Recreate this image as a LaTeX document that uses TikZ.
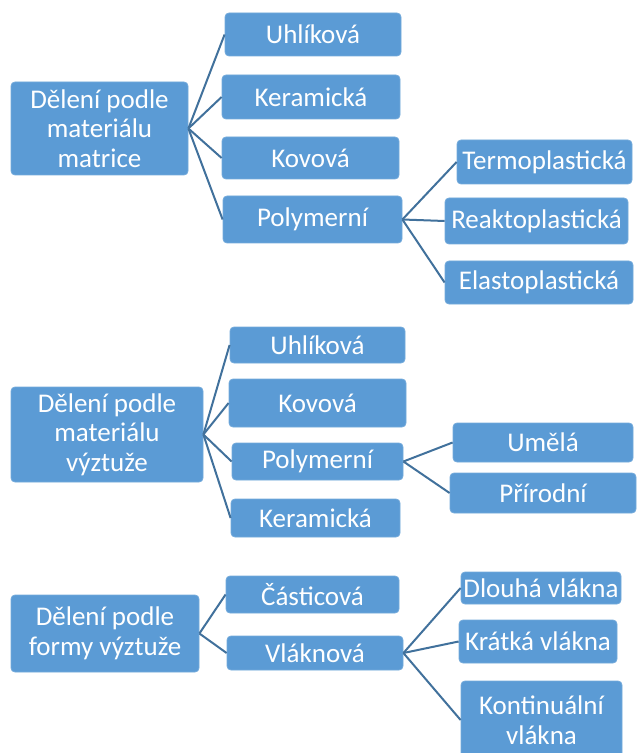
\documentclass[tikz,border=0pt]{standalone}
\usepackage{fontspec}
\setmainfont{Carlito}
\definecolor{modra}{HTML}{5B9BD5}
\definecolor{cara}{HTML}{41719C}
\tikzset{
blok/.style 2 args={fill=modra,draw=modra!85!white,rounded corners=2pt,text=white,align=center,inner sep=0pt,
minimum width=#1*0.5pt,minimum height=#2*0.5pt,font=\fontsize{13.5}{14.75}\selectfont},
spoj/.style={draw=cara,line width=1pt}
}
\begin{document}
\begin{tikzpicture}[x=0.5pt,y=-0.5pt]
\useasboundingbox (0,0) rectangle (636,753);
\node[blok={177}{93}](m)at(99.5,128.5){Dělení podle\\materiálu\\matrice};
\node[blok={176}{43}](mu)at(313,34.5){Uhlíková};
\node[blok={178}{44}](mk)at(311,97){Keramická};
\node[blok={177}{42}](mv)at(310.5,158){Kovová};
\node[blok={179}{47}](mp)at(312.5,219.5){Polymerní};
\node[blok={175}{44}](mt)at(544.5,162){Termoplastická};
\node[blok={183}{46}](mr)at(536.5,221){Reaktoplastická};
\node[blok={188}{43}](me)at(539,282.5){Elastoplastická};
\foreach \c in {mu,mk,mv,mp}\draw[spoj](m.east)--(\c.west);
\foreach \c in {mt,mr,me}\draw[spoj](mp.east)--(\c.west);
\node[blok={192}{95}](v)at(107,434.5){Dělení podle\\materiálu\\výztuže};
\node[blok={175}{36}](vu)at(317.5,345){Uhlíková};
\node[blok={177}{48}](vv)at(317.5,403){Kovová};
\node[blok={171}{37}](vp)at(317.5,461.5){Polymerní};
\node[blok={169}{38}](vk)at(315.5,518){Keramická};
\node[blok={180}{39}](vum)at(543,442.5){Umělá};
\node[blok={186}{40}](vpr)at(543,493){Přírodní};
\foreach \c in {vu,vv,vp,vk}\draw[spoj](v.east)--(\c.west);
\foreach \c in {vum,vpr}\draw[spoj](vp.east)--(\c.west);
\node[blok={188}{77}](f)at(105,633.5){Dělení podle\\formy výztuže};
\node[blok={173}{37}](fc)at(312.5,594.5){Částicová};
\node[blok={176}{34}](fv)at(315,653){Vláknová};
\node[blok={160}{32}](fd)at(541,588){Dlouhá vlákna};
\node[blok={158}{43}](fk)at(538,641.5){Krátká vlákna};
\node[blok={161}{78}](fko)at(541.5,720){Kontinuální\\vlákna};
\foreach \c in {fc,fv}\draw[spoj](f.east)--(\c.west);
\foreach \c in {fd,fk,fko}\draw[spoj](fv.east)--(\c.west);
\end{tikzpicture}
\end{document}
